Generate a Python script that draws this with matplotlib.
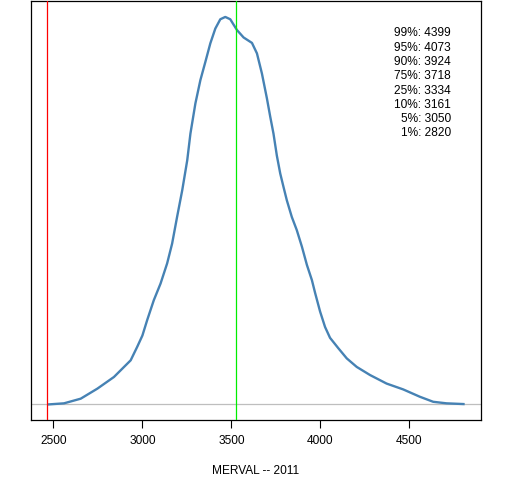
import matplotlib
matplotlib.use("Agg")
import matplotlib.pyplot as plt

# density of MERVAL index level over 2011 (relative height)
merval = [2466, 2559, 2653, 2747, 2840, 2934, 2971, 3000, 3027, 3064, 3102,
          3139, 3167, 3195, 3224, 3252, 3270, 3298, 3326, 3354, 3382, 3410,
          3438, 3466, 3494, 3532, 3569, 3616, 3644, 3672, 3700, 3719, 3737,
          3756, 3775, 3793, 3812, 3840, 3868, 3897, 3925, 3953, 3971, 3999,
          4027, 4055, 4102, 4149, 4205, 4280, 4373, 4466, 4560, 4635, 4710,
          4812]
density = [0.000, 0.003, 0.015, 0.041, 0.071, 0.114, 0.149, 0.178, 0.218,
           0.269, 0.312, 0.364, 0.415, 0.484, 0.553, 0.630, 0.699, 0.777,
           0.837, 0.884, 0.932, 0.970, 0.994, 1.000, 0.994, 0.966, 0.947,
           0.933, 0.906, 0.854, 0.790, 0.742, 0.699, 0.642, 0.596, 0.562,
           0.527, 0.484, 0.450, 0.407, 0.360, 0.321, 0.288, 0.240, 0.200,
           0.172, 0.145, 0.119, 0.097, 0.076, 0.054, 0.039, 0.020, 0.007,
           0.003, 0.001]

start_level = 2464   # red line
current_level = 3526  # green line

quant_labels = ["99%", "95%", "90%", "75%", "25%", "10%", "5%", "1%"]
quant_values = [4399, 4073, 3924, 3718, 3334, 3161, 3050, 2820]

xticks = [2500, 3000, 3500, 4000, 4500]

plt.rcParams["font.family"] = ["Liberation Sans", "DejaVu Sans"]

fig = plt.figure(figsize=(5.12, 4.8), dpi=100)
ax = fig.add_axes([0.060, 0.125, 0.8795, 0.872])

ax.plot(merval, density, color="#4682B4", linewidth=1.7, zorder=2,
        solid_joinstyle="round", solid_capstyle="butt")
ax.axhline(0, color="#BEBEBE", linewidth=0.9, zorder=1)
ax.axvline(start_level, color="#FF0000", linewidth=0.9, zorder=3)
ax.axvline(current_level, color="#00EE00", linewidth=0.9, zorder=3)

ax.set_xlim(2372, 4904)
ax.set_ylim(-0.04, 1.04)
ax.set_xticks(xticks)
ax.set_xticklabels([str(t) for t in xticks], fontsize=8.6)
ax.set_yticks([])
ax.tick_params(axis="x", length=5.8, width=0.8, pad=5, colors="black")
for s in ax.spines.values():
    s.set_linewidth(0.9)
    s.set_color("black")

# quantile legend, one line each
for i, (lab, val) in enumerate(zip(quant_labels, quant_values)):
    ypix = 33.3 + 14.3 * i
    ax.text(0.933, (420 - ypix) / 418.7, f"{lab}: {val}", transform=ax.transAxes,
            ha="right", va="center", fontsize=8.6)

fig.text(0.5, 1 - 470.7 / 480, "MERVAL -- 2011", ha="center", va="center",
         fontsize=8.6)

fig.savefig("out.png", dpi=100)
